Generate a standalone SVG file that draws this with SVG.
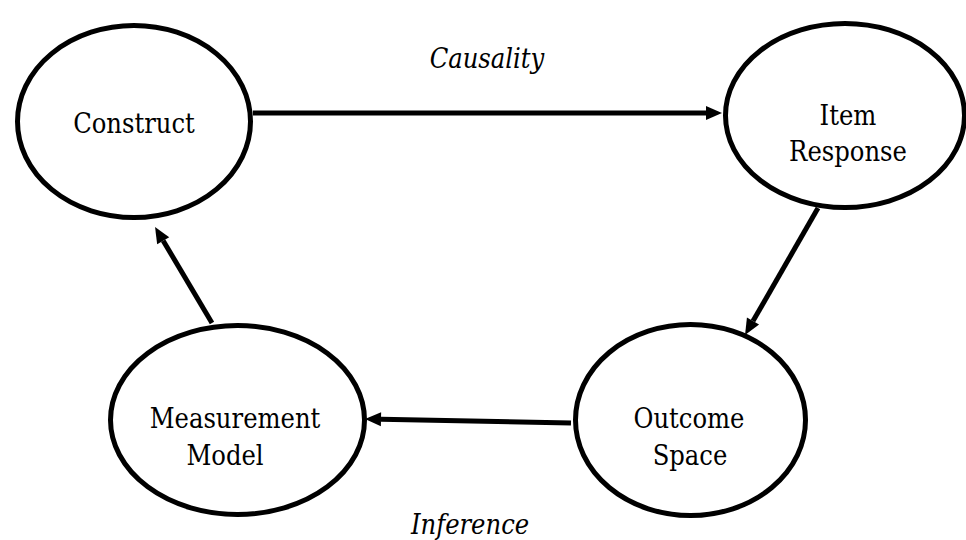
<svg xmlns="http://www.w3.org/2000/svg" width="966" height="540" viewBox="0 0 966 540">
  <style>
    text { font-family: 'DejaVu Serif', serif; font-stretch: condensed; fill: #000000; text-anchor: middle; }
    .node { fill: #ffffff; stroke: #000000; stroke-width: 5; }
    .lbl { font-size: 27px; }
    .edge-lbl { font-size: 27px; font-style: italic; }
    .conn { stroke: #000000; stroke-width: 5; fill: none; marker-end: url(#arrow); }
  </style>
  <defs>
    <marker id="arrow" markerUnits="userSpaceOnUse" markerWidth="17" markerHeight="15" refX="0" refY="7" orient="auto" overflow="visible">
      <path d="M0,0 L16,7 L0,14 z" fill="#000000"/>
    </marker>
  </defs>
  <rect width="966" height="540" fill="#ffffff"/>
  <g id="connectors">
    <line class="conn" x1="253" y1="113" x2="706" y2="113"/>
    <line class="conn" x1="818" y1="208" x2="753" y2="321.1"/>
    <line class="conn" x1="571" y1="423" x2="381" y2="419.3"/>
    <line class="conn" x1="212" y1="323" x2="163.2" y2="240.7"/>
  </g>
  <g id="construct">
    <ellipse class="node" cx="134" cy="121.5" rx="116.5" ry="96"/>
    <text class="lbl" x="134" y="133">Construct</text>
  </g>
  <g id="item-response">
    <ellipse class="node" cx="845" cy="115.5" rx="119.5" ry="92"/>
    <text class="lbl" x="848" y="125">Item</text>
    <text class="lbl" x="848" y="160.5">Response</text>
  </g>
  <g id="outcome-space">
    <ellipse class="node" cx="690.5" cy="420" rx="115" ry="95.5"/>
    <text class="lbl" x="689" y="428">Outcome</text>
    <text class="lbl" x="690" y="465">Space</text>
  </g>
  <g id="measurement-model">
    <ellipse class="node" cx="237.5" cy="420" rx="127" ry="94.5"/>
    <text class="lbl" x="235" y="428">Measurement</text>
    <text class="lbl" x="225" y="465">Model</text>
  </g>
  <g id="edge-labels">
    <text class="edge-lbl" x="487" y="68">Causality</text>
    <text class="edge-lbl" x="470" y="534">Inference</text>
  </g>
</svg>
